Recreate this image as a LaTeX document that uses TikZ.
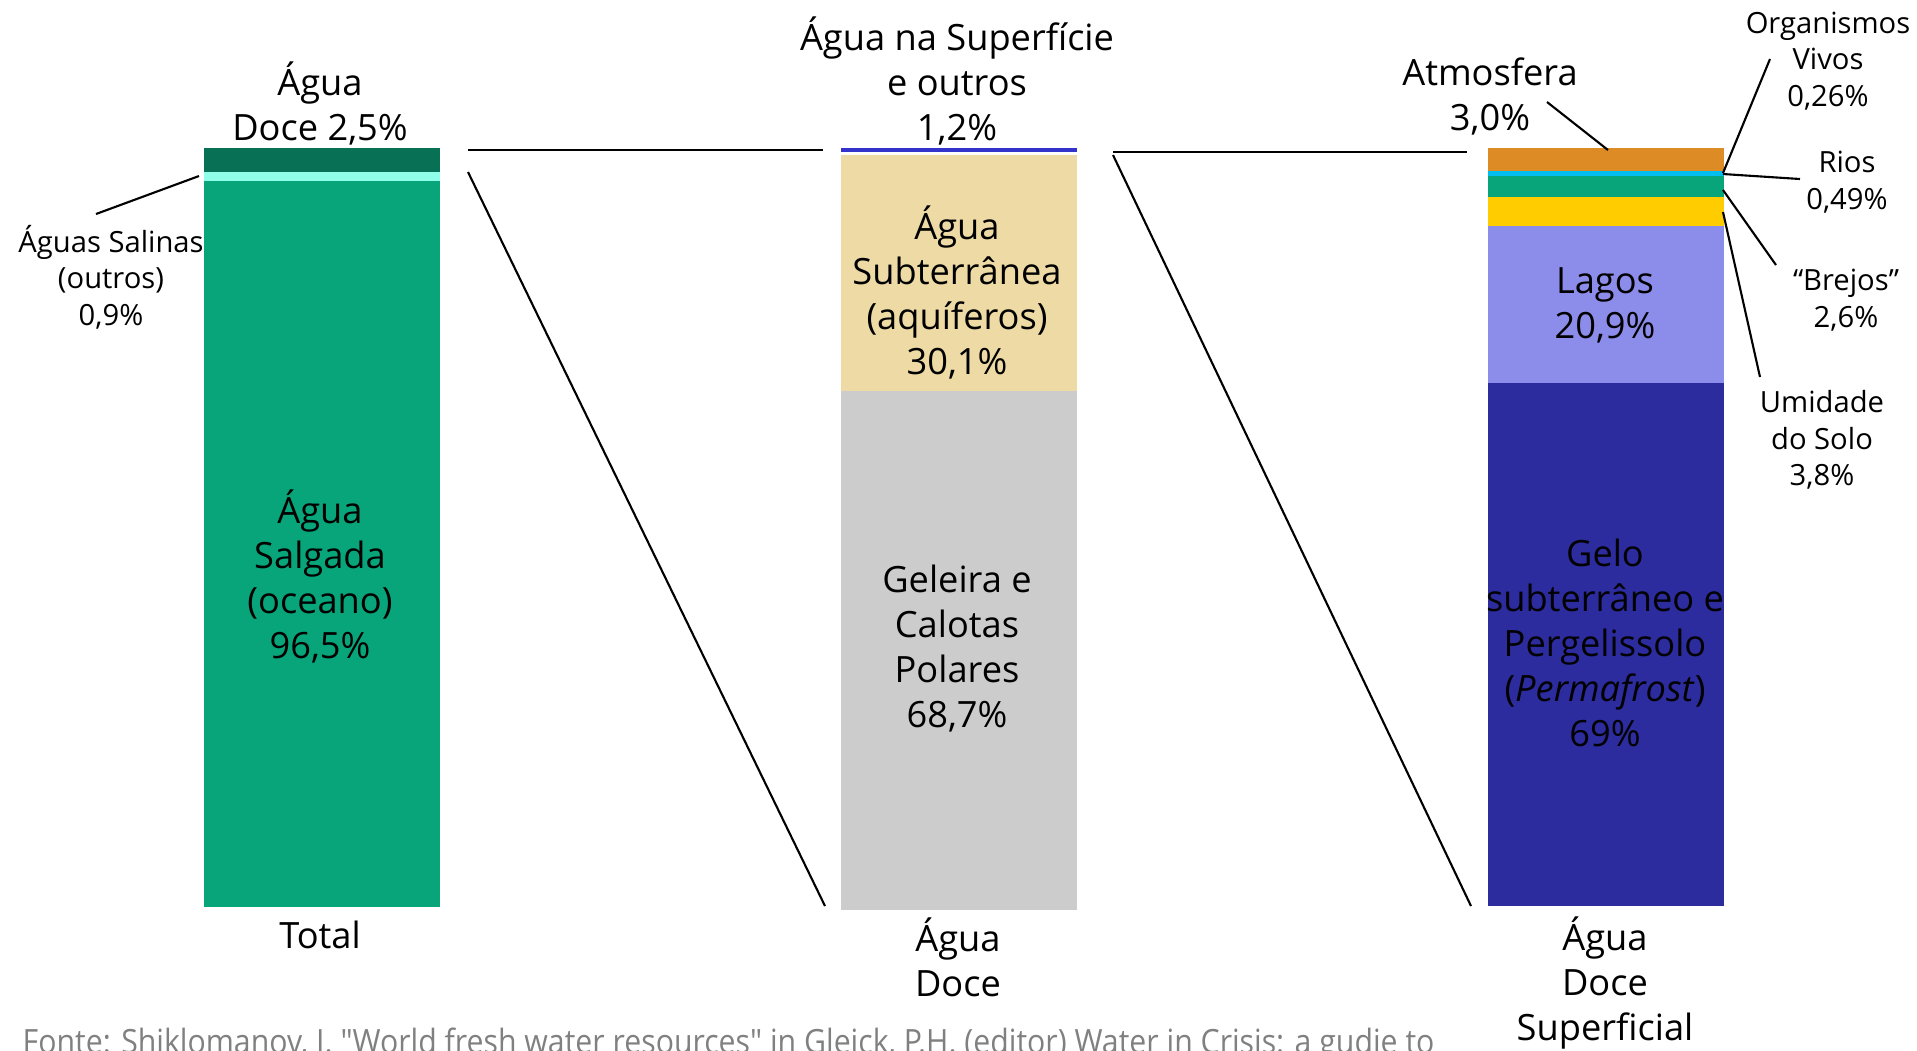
\documentclass[tikz,border=0pt]{standalone}
\usepackage{fontspec}
\setmainfont{Open Sans}

\definecolor{docedark}{RGB}{8,112,84}
\definecolor{salinas}{RGB}{143,255,234}
\definecolor{oceano}{RGB}{8,165,123}
\definecolor{superf}{RGB}{51,51,204}
\definecolor{aquifero}{RGB}{238,218,165}
\definecolor{geleira}{RGB}{204,204,204}
\definecolor{atmos}{RGB}{221,139,36}
\definecolor{rios}{RGB}{0,190,240}
\definecolor{umidade}{RGB}{255,204,0}
\definecolor{lagos}{RGB}{140,140,234}
\definecolor{gelo}{RGB}{44,44,158}
\definecolor{fonte}{RGB}{128,128,128}

\begin{document}
\begin{tikzpicture}[x=0.01cm, y=-0.01cm,
  txt/.style = {align=center, inner sep=0pt, font=\fontsize{10.3}{12.8}\selectfont},
  small/.style = {align=center, inner sep=0pt, font=\fontsize{8.3}{10.4}\selectfont},
  lead/.style = {line width=0.6pt}]
\useasboundingbox (0,0) rectangle (1917,1050);
\clip (0,0) rectangle (1917,1050);

% Total
\fill[docedark] (204,148) rectangle (440,172);
\fill[salinas] (204,172) rectangle (440,181);
\fill[oceano] (204,181) rectangle (440,907);
% Agua doce
\fill[superf] (841,148) rectangle (1077,152);
\fill[aquifero] (841,155) rectangle (1077,391);
\fill[geleira] (841,391) rectangle (1077,910);
% Agua doce superficial
\fill[atmos] (1488,148) rectangle (1724,171);
\fill[rios] (1488,171) rectangle (1724,176);
\fill[oceano] (1488,176) rectangle (1724,197);
\fill[umidade] (1488,197) rectangle (1724,226);
\fill[lagos] (1488,226) rectangle (1724,383);
\fill[gelo] (1488,383) rectangle (1724,906);

\node[txt] (doce) at (320,103) {Água\\Doce 2,5\%};
\node[small] (salin) at (111,277) {Águas Salinas\\(outros)\\0,9\%};
\node[txt] (salg) at (320,576) {Água\\Salgada\\(oceano)\\96,5\%};
\node[txt] (total) at (320,935) {Total};

\node[txt] (sup) at (957,81) {Água na Superfície\\e outros\\1,2\%};
\node[txt] (subt) at (957,292) {Água\\Subterrânea\\(aquíferos)\\30,1\%};
\node[txt] (gel) at (957,649) {Geleira e\\Calotas\\Polares\\68,7\%};
\node[txt] (ad) at (958,957) {Água\\Doce};

\node[txt] (atm) at (1490,96) {Atmosfera\\3,0\%};
\node[small] (org) at (1828,61) {Organismos\\Vivos\\0,26\%};
\node[small] (rio) at (1847,182) {Rios\\0,49\%};
\node[small] (brej) at (1846,300) {“Brejos”\\2,6\%};
\node[small] (umid) at (1822,440) {Umidade\\do Solo\\3,8\%};
\node[txt] (lag) at (1605,305) {Lagos\\20,9\%};
\node[txt] (perm) at (1605,643) {Gelo\\subterrâneo e\\Pergelissolo\\(\textit{Permafrost})\\69\%};
\node[txt] (ads) at (1605,983) {Água\\Doce\\Superficial};

\node[anchor=base west, inner sep=0pt, text=fonte, font=\fontsize{9.5}{11}\selectfont] (src) at (22,1053)
  {\scalebox{0.905}[1]{Fonte: Shiklomanov, I. \textquotedbl World fresh water resources\textquotedbl{} in Gleick, P.H. (editor) Water in Crisis: a gudie to}};

% zoom lines
\coordinate (a1) at (468,150); \coordinate (a2) at (823,150);
\coordinate (b1) at (468,172); \coordinate (b2) at (825,906);
\coordinate (c1) at (1113,152); \coordinate (c2) at (1467,152);
\coordinate (d1) at (1113,155); \coordinate (d2) at (1471,906);
\draw[lead] (a1) -- (a2);
\draw[lead] (b1) -- (b2);
\draw[lead] (c1) -- (c2);
\draw[lead] (d1) -- (d2);

% leaders
\coordinate (s1) at (96,214);   \coordinate (s2) at (199,176);
\coordinate (m1) at (1547,102); \coordinate (m2) at (1608,150);
\coordinate (o1) at (1770,59);  \coordinate (o2) at (1723,173);
\coordinate (r1) at (1800,179); \coordinate (r2) at (1723,174);
\coordinate (j1) at (1776,265); \coordinate (j2) at (1723,190);
\coordinate (u1) at (1760,377); \coordinate (u2) at (1723,212);
\draw[lead] (s1) -- (s2);
\draw[lead] (m1) -- (m2);
\draw[lead] (o1) -- (o2);
\draw[lead] (r1) -- (r2);
\draw[lead] (j1) -- (j2);
\draw[lead] (u1) -- (u2);
\end{tikzpicture}
\end{document}
